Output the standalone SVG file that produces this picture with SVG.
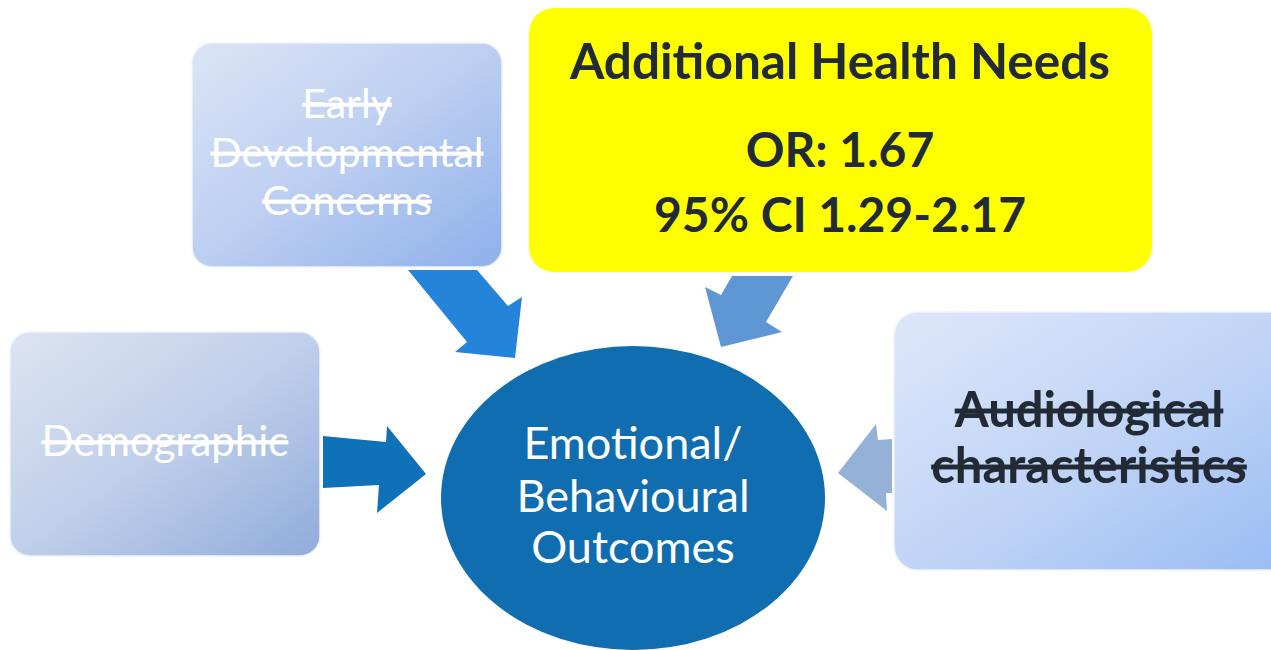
<svg xmlns="http://www.w3.org/2000/svg" width="1271" height="650" viewBox="0 0 1271 650">
  <defs>
    <linearGradient id="gDemo" x1="0" y1="0" x2="1" y2="1">
      <stop offset="0" stop-color="#dde4f2"/>
      <stop offset="0.5" stop-color="#c0cfea"/>
      <stop offset="1" stop-color="#90acdb"/>
    </linearGradient>
    <linearGradient id="gEarly" x1="0" y1="0" x2="1" y2="1">
      <stop offset="0" stop-color="#dce5f6"/>
      <stop offset="0.5" stop-color="#bccef1"/>
      <stop offset="1" stop-color="#8fb0eb"/>
    </linearGradient>
    <linearGradient id="gAudio" x1="0" y1="0" x2="1" y2="1">
      <stop offset="0" stop-color="#dde7fa"/>
      <stop offset="0.5" stop-color="#c2d5f6"/>
      <stop offset="1" stop-color="#99bbf4"/>
    </linearGradient>
    <style>
      .box { stroke: #eef3fb; stroke-width: 1.5; }
      .lite { font-family: Lato, "Open Sans", sans-serif; fill: #ffffff; text-anchor: middle; text-decoration: line-through; }
      .dark { font-family: Lato, "Open Sans", sans-serif; font-weight: bold; fill: #222a35; text-anchor: middle; text-decoration: line-through; }
      .hl { font-family: Lato, "Open Sans", sans-serif; font-weight: bold; fill: #222a35; text-anchor: middle; }
      .core { font-family: Lato, "Open Sans", sans-serif; fill: #ffffff; text-anchor: middle; }
    </style>
  </defs>
  <rect width="1271" height="650" fill="#ffffff"/>

  <!-- block arrows pointing into the central outcome -->
  <g id="connectors">
    <polygon fill="#2484d9" points="408,270 477,270 508,306 522,297 515,358 455,352 467,342"/>
    <polygon fill="#0f72b8" points="323,436 386,442 387,426 426,474 377,513 379,485 323,488"/>
    <polygon fill="#5f97d5" points="732,276 793,276 766,322 782,332 721,347 705,287 721,295"/>
    <polygon fill="#95b1d8" points="892,439 878,440 876,424 838,473 887,511 886,493 892,493"/>
  </g>

  <g id="node-early">
    <rect class="box" x="192" y="43" width="310" height="224" rx="20" fill="url(#gEarly)"/>
    <text class="lite" font-size="41" x="347" y="118">Early</text>
    <text class="lite" font-size="41" x="347" y="167">Developmental</text>
    <text class="lite" font-size="41" x="347" y="215">Concerns</text>
  </g>

  <g id="node-demographic">
    <rect class="box" x="10" y="332" width="310" height="224" rx="20" fill="url(#gDemo)"/>
    <text class="lite" font-size="42" x="165" y="456">Demographic</text>
  </g>

  <g id="node-health">
    <rect x="529" y="8" width="623" height="264" rx="25" fill="#ffff00"/>
    <text class="hl" font-size="49" x="840" y="79" textLength="540" lengthAdjust="spacingAndGlyphs">Additional Health Needs</text>
    <text class="hl" font-size="48" x="840" y="167">OR: 1.67</text>
    <text class="hl" font-size="48" x="840" y="232">95% CI 1.29-2.17</text>
  </g>

  <g id="node-audio">
    <rect class="box" x="894" y="312" width="400" height="258" rx="24" fill="url(#gAudio)"/>
    <text class="dark" font-size="49" x="1089" y="427">Audiological</text>
    <text class="dark" font-size="49" x="1089" y="483">characteristics</text>
  </g>

  <g id="node-outcome">
    <ellipse cx="633" cy="498" rx="192" ry="152" fill="#0f6db0"/>
    <text class="core" font-size="45" x="633" y="459">Emotional/</text>
    <text class="core" font-size="45" x="633" y="512">Behavioural</text>
    <text class="core" font-size="45" x="633" y="563">Outcomes</text>
  </g>
</svg>
